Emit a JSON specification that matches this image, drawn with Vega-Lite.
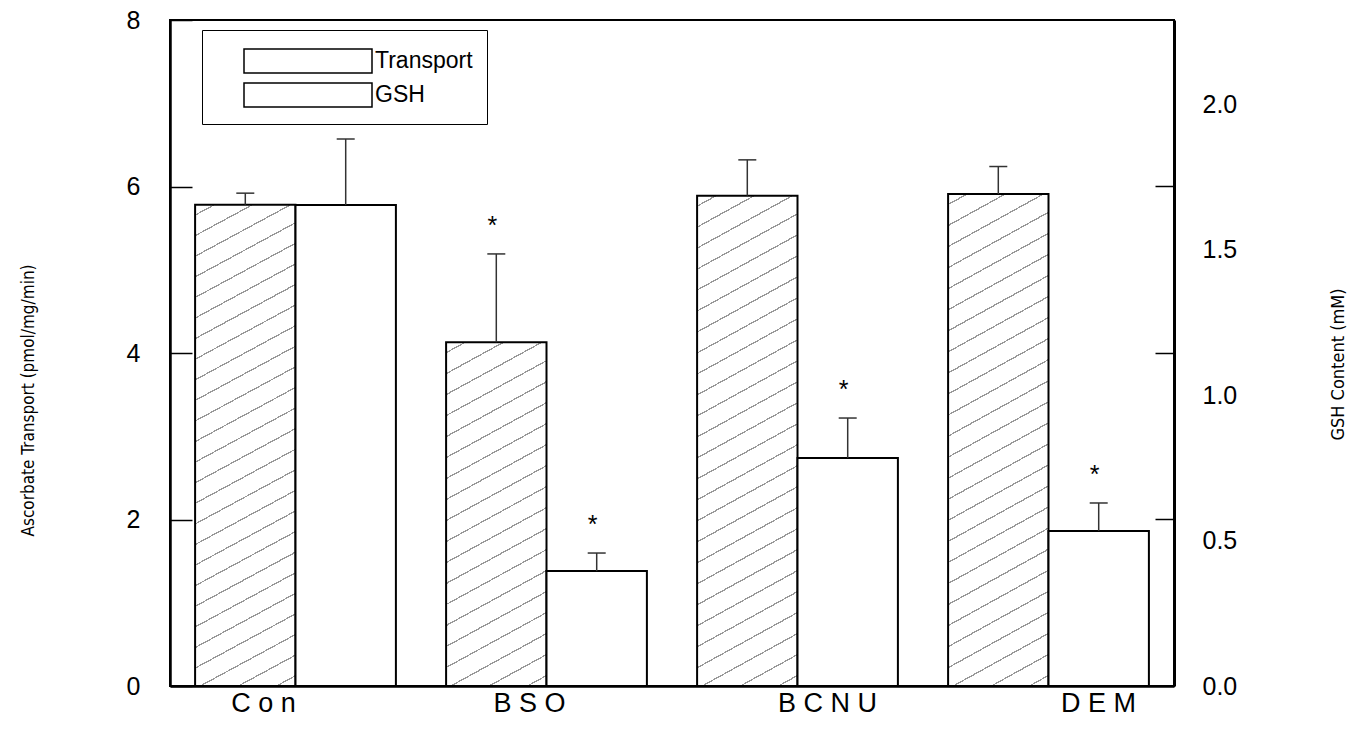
{
  "$schema": "https://vega.github.io/schema/vega-lite/v6.json",
  "width": 1004,
  "height": 666,
  "autosize": {"type": "none"},
  "padding": {"left": 170, "top": 20, "right": 196, "bottom": 47},
  "background": "white",
  "config": {"view": {"stroke": "black", "strokeWidth": 2}},
  "data": {"values": [
    {"group": "Con", "series": "Transport", "value": 5.78, "hi": 5.92, "sig": ""},
    {"group": "BSO", "series": "Transport", "value": 4.13, "hi": 5.19, "sig": "*"},
    {"group": "BCNU", "series": "Transport", "value": 5.89, "hi": 6.32, "sig": ""},
    {"group": "DEM", "series": "Transport", "value": 5.91, "hi": 6.24, "sig": ""},
    {"group": "Con", "series": "GSH", "value": 1.653, "hi": 1.88, "sig": ""},
    {"group": "BSO", "series": "GSH", "value": 0.395, "hi": 0.457, "sig": "*"},
    {"group": "BCNU", "series": "GSH", "value": 0.784, "hi": 0.921, "sig": "*"},
    {"group": "DEM", "series": "GSH", "value": 0.533, "hi": 0.629, "sig": "*"}
  ]},
  "encoding": {
    "x": {"field": "group", "type": "nominal",
      "scale": {"domain": ["Con", "BSO", "BCNU", "DEM"], "paddingInner": 0.2, "paddingOuter": 0.1},
      "axis": {"title": null, "ticks": false, "labelAngle": 0, "labelFont": "Liberation Sans", "labelFontSize": 27, "labelColor": "black", "labelPadding": 4, "domainColor": "black", "domainWidth": 2.5,
        "labelOffset": {"condition": [{"test": "datum.value === 'Con'", "value": -32}, {"test": "datum.value === 'BSO'", "value": -17}, {"test": "datum.value === 'BCNU'", "value": 30}], "value": 50},
        "labelExpr": "join(split(datum.value, ''), ' ')"}},
    "xOffset": {"field": "series", "type": "nominal", "scale": {"domain": ["Transport", "GSH"], "paddingInner": 0, "paddingOuter": 0}}
  },
  "layer": [
    {
      "transform": [{"filter": "datum.series === 'Transport'"}],
      "encoding": {
        "y": {"field": "value", "type": "quantitative", "title": "Ascorbate Transport (pmol/mg/min)",
          "scale": {"domain": [0, 8], "nice": false},
          "axis": {"orient": "left", "values": [0, 2, 4, 6, 8], "format": "d", "labelFont": "Liberation Sans", "labelFontSize": 25, "labelColor": "black", "labelPadding": 52, "labelOverlap": false, "tickSize": -22, "tickWidth": 1.5, "tickColor": "black", "domainColor": "black", "domainWidth": 2.5, "grid": false,
            "titleFont": "DejaVu Sans Condensed, Liberation Sans", "titleFontSize": 17, "titleFontWeight": "normal", "titleColor": "black", "titleAngle": 270, "titleX": -142, "titleY": 380, "titleAlign": "center", "titleBaseline": "middle"}}
      },
      "layer": [
        {
          "mark": {"type": "bar", "stroke": "black", "strokeWidth": 2},
          "encoding": {
            "fill": {
              "condition": {"test": "datum.group === 'BSO'", "value": {"gradient": "linear", "x1": 0, "y1": 0, "x2": 0.1808, "y2": 1.131, "stops": [
                {"offset": 0, "color": "#fff"},
                {"offset": 0.0245, "color": "#fff"}, {"offset": 0.0245, "color": "#999"}, {"offset": 0.0282, "color": "#999"}, {"offset": 0.0282, "color": "#fff"},
                {"offset": 0.0771, "color": "#fff"}, {"offset": 0.0771, "color": "#999"}, {"offset": 0.0808, "color": "#999"}, {"offset": 0.0808, "color": "#fff"},
                {"offset": 0.1297, "color": "#fff"}, {"offset": 0.1297, "color": "#999"}, {"offset": 0.1334, "color": "#999"}, {"offset": 0.1334, "color": "#fff"},
                {"offset": 0.1824, "color": "#fff"}, {"offset": 0.1824, "color": "#999"}, {"offset": 0.186, "color": "#999"}, {"offset": 0.186, "color": "#fff"},
                {"offset": 0.235, "color": "#fff"}, {"offset": 0.235, "color": "#999"}, {"offset": 0.2387, "color": "#999"}, {"offset": 0.2387, "color": "#fff"},
                {"offset": 0.2876, "color": "#fff"}, {"offset": 0.2876, "color": "#999"}, {"offset": 0.2913, "color": "#999"}, {"offset": 0.2913, "color": "#fff"},
                {"offset": 0.3403, "color": "#fff"}, {"offset": 0.3403, "color": "#999"}, {"offset": 0.3439, "color": "#999"}, {"offset": 0.3439, "color": "#fff"},
                {"offset": 0.3929, "color": "#fff"}, {"offset": 0.3929, "color": "#999"}, {"offset": 0.3966, "color": "#999"}, {"offset": 0.3966, "color": "#fff"},
                {"offset": 0.4455, "color": "#fff"}, {"offset": 0.4455, "color": "#999"}, {"offset": 0.4492, "color": "#999"}, {"offset": 0.4492, "color": "#fff"},
                {"offset": 0.4982, "color": "#fff"}, {"offset": 0.4982, "color": "#999"}, {"offset": 0.5018, "color": "#999"}, {"offset": 0.5018, "color": "#fff"},
                {"offset": 0.5508, "color": "#fff"}, {"offset": 0.5508, "color": "#999"}, {"offset": 0.5545, "color": "#999"}, {"offset": 0.5545, "color": "#fff"},
                {"offset": 0.6034, "color": "#fff"}, {"offset": 0.6034, "color": "#999"}, {"offset": 0.6071, "color": "#999"}, {"offset": 0.6071, "color": "#fff"},
                {"offset": 0.6561, "color": "#fff"}, {"offset": 0.6561, "color": "#999"}, {"offset": 0.6597, "color": "#999"}, {"offset": 0.6597, "color": "#fff"},
                {"offset": 0.7087, "color": "#fff"}, {"offset": 0.7087, "color": "#999"}, {"offset": 0.7124, "color": "#999"}, {"offset": 0.7124, "color": "#fff"},
                {"offset": 0.7613, "color": "#fff"}, {"offset": 0.7613, "color": "#999"}, {"offset": 0.765, "color": "#999"}, {"offset": 0.765, "color": "#fff"},
                {"offset": 0.814, "color": "#fff"}, {"offset": 0.814, "color": "#999"}, {"offset": 0.8176, "color": "#999"}, {"offset": 0.8176, "color": "#fff"},
                {"offset": 0.8666, "color": "#fff"}, {"offset": 0.8666, "color": "#999"}, {"offset": 0.8703, "color": "#999"}, {"offset": 0.8703, "color": "#fff"},
                {"offset": 0.9192, "color": "#fff"}, {"offset": 0.9192, "color": "#999"}, {"offset": 0.9229, "color": "#999"}, {"offset": 0.9229, "color": "#fff"},
                {"offset": 0.9718, "color": "#fff"}, {"offset": 0.9718, "color": "#999"}, {"offset": 0.9755, "color": "#999"}, {"offset": 0.9755, "color": "#fff"},
                {"offset": 1, "color": "#fff"}
              ]}},
              "value": {"gradient": "linear", "x1": 0, "y1": 0, "x2": 0.1238, "y2": 1.0987, "stops": [
                {"offset": 0, "color": "#fff"},
                {"offset": 0.0179, "color": "#fff"}, {"offset": 0.0179, "color": "#999"}, {"offset": 0.0206, "color": "#999"}, {"offset": 0.0206, "color": "#fff"},
                {"offset": 0.0563, "color": "#fff"}, {"offset": 0.0563, "color": "#999"}, {"offset": 0.059, "color": "#999"}, {"offset": 0.059, "color": "#fff"},
                {"offset": 0.0948, "color": "#fff"}, {"offset": 0.0948, "color": "#999"}, {"offset": 0.0975, "color": "#999"}, {"offset": 0.0975, "color": "#fff"},
                {"offset": 0.1333, "color": "#fff"}, {"offset": 0.1333, "color": "#999"}, {"offset": 0.136, "color": "#999"}, {"offset": 0.136, "color": "#fff"},
                {"offset": 0.1717, "color": "#fff"}, {"offset": 0.1717, "color": "#999"}, {"offset": 0.1744, "color": "#999"}, {"offset": 0.1744, "color": "#fff"},
                {"offset": 0.2102, "color": "#fff"}, {"offset": 0.2102, "color": "#999"}, {"offset": 0.2129, "color": "#999"}, {"offset": 0.2129, "color": "#fff"},
                {"offset": 0.2486, "color": "#fff"}, {"offset": 0.2486, "color": "#999"}, {"offset": 0.2514, "color": "#999"}, {"offset": 0.2514, "color": "#fff"},
                {"offset": 0.2871, "color": "#fff"}, {"offset": 0.2871, "color": "#999"}, {"offset": 0.2898, "color": "#999"}, {"offset": 0.2898, "color": "#fff"},
                {"offset": 0.3256, "color": "#fff"}, {"offset": 0.3256, "color": "#999"}, {"offset": 0.3283, "color": "#999"}, {"offset": 0.3283, "color": "#fff"},
                {"offset": 0.364, "color": "#fff"}, {"offset": 0.364, "color": "#999"}, {"offset": 0.3667, "color": "#999"}, {"offset": 0.3667, "color": "#fff"},
                {"offset": 0.4025, "color": "#fff"}, {"offset": 0.4025, "color": "#999"}, {"offset": 0.4052, "color": "#999"}, {"offset": 0.4052, "color": "#fff"},
                {"offset": 0.441, "color": "#fff"}, {"offset": 0.441, "color": "#999"}, {"offset": 0.4437, "color": "#999"}, {"offset": 0.4437, "color": "#fff"},
                {"offset": 0.4794, "color": "#fff"}, {"offset": 0.4794, "color": "#999"}, {"offset": 0.4821, "color": "#999"}, {"offset": 0.4821, "color": "#fff"},
                {"offset": 0.5179, "color": "#fff"}, {"offset": 0.5179, "color": "#999"}, {"offset": 0.5206, "color": "#999"}, {"offset": 0.5206, "color": "#fff"},
                {"offset": 0.5563, "color": "#fff"}, {"offset": 0.5563, "color": "#999"}, {"offset": 0.559, "color": "#999"}, {"offset": 0.559, "color": "#fff"},
                {"offset": 0.5948, "color": "#fff"}, {"offset": 0.5948, "color": "#999"}, {"offset": 0.5975, "color": "#999"}, {"offset": 0.5975, "color": "#fff"},
                {"offset": 0.6333, "color": "#fff"}, {"offset": 0.6333, "color": "#999"}, {"offset": 0.636, "color": "#999"}, {"offset": 0.636, "color": "#fff"},
                {"offset": 0.6717, "color": "#fff"}, {"offset": 0.6717, "color": "#999"}, {"offset": 0.6744, "color": "#999"}, {"offset": 0.6744, "color": "#fff"},
                {"offset": 0.7102, "color": "#fff"}, {"offset": 0.7102, "color": "#999"}, {"offset": 0.7129, "color": "#999"}, {"offset": 0.7129, "color": "#fff"},
                {"offset": 0.7486, "color": "#fff"}, {"offset": 0.7486, "color": "#999"}, {"offset": 0.7514, "color": "#999"}, {"offset": 0.7514, "color": "#fff"},
                {"offset": 0.7871, "color": "#fff"}, {"offset": 0.7871, "color": "#999"}, {"offset": 0.7898, "color": "#999"}, {"offset": 0.7898, "color": "#fff"},
                {"offset": 0.8256, "color": "#fff"}, {"offset": 0.8256, "color": "#999"}, {"offset": 0.8283, "color": "#999"}, {"offset": 0.8283, "color": "#fff"},
                {"offset": 0.864, "color": "#fff"}, {"offset": 0.864, "color": "#999"}, {"offset": 0.8667, "color": "#999"}, {"offset": 0.8667, "color": "#fff"},
                {"offset": 0.9025, "color": "#fff"}, {"offset": 0.9025, "color": "#999"}, {"offset": 0.9052, "color": "#999"}, {"offset": 0.9052, "color": "#fff"},
                {"offset": 0.941, "color": "#fff"}, {"offset": 0.941, "color": "#999"}, {"offset": 0.9437, "color": "#999"}, {"offset": 0.9437, "color": "#fff"},
                {"offset": 0.9794, "color": "#fff"}, {"offset": 0.9794, "color": "#999"}, {"offset": 0.9821, "color": "#999"}, {"offset": 0.9821, "color": "#fff"},
                {"offset": 1, "color": "#fff"}
              ]}
            }
          }
        },
        {
          "mark": {"type": "rule", "color": "#333", "strokeWidth": 1.5},
          "encoding": {"y2": {"field": "hi"}}
        },
        {
          "mark": {"type": "tick", "color": "#333", "thickness": 1.5, "size": 18, "opacity": 1},
          "encoding": {"y": {"field": "hi", "type": "quantitative", "title": "Ascorbate Transport (pmol/mg/min)"}}
        },
        {
          "transform": [{"filter": "datum.sig !== ''"}],
          "mark": {"type": "text", "font": "Liberation Sans", "fontSize": 25, "color": "black", "dy": -28, "dx": -4, "baseline": "middle"},
          "encoding": {"y": {"field": "hi", "type": "quantitative", "title": "Ascorbate Transport (pmol/mg/min)"}, "text": {"field": "sig"}}
        }
      ]
    },
    {
      "transform": [{"filter": "datum.series === 'GSH'"}],
      "encoding": {
        "y": {"field": "value", "type": "quantitative", "title": "GSH Content (mM)",
          "scale": {"domain": [0, 2.289], "nice": false},
          "axis": {"orient": "right", "values": [0, 0.5, 0.5725, 1, 1.145, 1.5, 1.7175, 2],
            "labelExpr": "(round(datum.value * 1000) % 500 === 0) ? format(datum.value, '.1f') : ''",
            "tickOpacity": {"condition": {"test": "round(datum.value * 1000) % 500 === 0", "value": 0}, "value": 1},
            "labelFont": "Liberation Sans", "labelFontSize": 25, "labelColor": "black", "labelPadding": 47, "labelOverlap": false, "tickSize": -19, "tickWidth": 1.5, "tickColor": "black", "domainColor": "black", "domainWidth": 3, "grid": false,
            "titleFont": "DejaVu Sans Condensed, Liberation Sans", "titleFontSize": 18, "titleFontWeight": "normal", "titleColor": "black", "titleAngle": 270, "titleX": 164, "titleY": 344, "titleAlign": "center", "titleBaseline": "middle"}}
      },
      "layer": [
        {
          "mark": {"type": "bar", "fill": "white", "strokeWidth": 2},
          "encoding": {
            "stroke": {"field": "series", "type": "nominal",
              "scale": {"domain": ["Transport", "GSH"], "range": ["black", "black"]},
              "legend": {"orient": "none", "legendX": 32, "legendY": 10, "title": null,
                "padding": 14, "rowPadding": 2, "strokeColor": "black", "fillColor": "white",
                "symbolType": "M-4,-0.75H4V0.75H-4Z", "symbolSize": 1024, "symbolOffset": 75, "symbolStrokeWidth": 1.5, "symbolOpacity": 1,
                "labelFont": "Liberation Sans", "labelFontSize": 23, "labelColor": "black", "labelOffset": 50,
                "encode": {
                  "legend": {"strokeWidth": {"value": 2.5}},
                  "symbols": {
                    "fill": {"condition": {"test": "datum.value === 'Transport'", "value": {"gradient": "linear", "x1": 0, "y1": 0, "x2": 1.2013, "y2": 0.4095, "stops": [
                      {"offset": 0, "color": "#fff"},
                      {"offset": 0.1033, "color": "#fff"}, {"offset": 0.1033, "color": "#999"}, {"offset": 0.1189, "color": "#999"}, {"offset": 0.1189, "color": "#fff"},
                      {"offset": 0.3255, "color": "#fff"}, {"offset": 0.3255, "color": "#999"}, {"offset": 0.3411, "color": "#999"}, {"offset": 0.3411, "color": "#fff"},
                      {"offset": 0.5478, "color": "#fff"}, {"offset": 0.5478, "color": "#999"}, {"offset": 0.5634, "color": "#999"}, {"offset": 0.5634, "color": "#fff"},
                      {"offset": 0.77, "color": "#fff"}, {"offset": 0.77, "color": "#999"}, {"offset": 0.7856, "color": "#999"}, {"offset": 0.7856, "color": "#fff"},
                      {"offset": 1, "color": "#fff"}
                    ]}}, "value": "white"}
                  }
                }
              }}
          }
        },
        {
          "mark": {"type": "rule", "color": "#333", "strokeWidth": 1.5},
          "encoding": {"y2": {"field": "hi"}}
        },
        {
          "mark": {"type": "tick", "color": "#333", "thickness": 1.5, "size": 18, "opacity": 1},
          "encoding": {"y": {"field": "hi", "type": "quantitative", "title": "GSH Content (mM)"}}
        },
        {
          "transform": [{"filter": "datum.sig !== ''"}],
          "mark": {"type": "text", "font": "Liberation Sans", "fontSize": 25, "color": "black", "dy": -28, "dx": -4, "baseline": "middle"},
          "encoding": {"y": {"field": "hi", "type": "quantitative", "title": "GSH Content (mM)"}, "text": {"field": "sig"}}
        }
      ]
    }
  ],
  "resolve": {"scale": {"y": "independent"}}
}
